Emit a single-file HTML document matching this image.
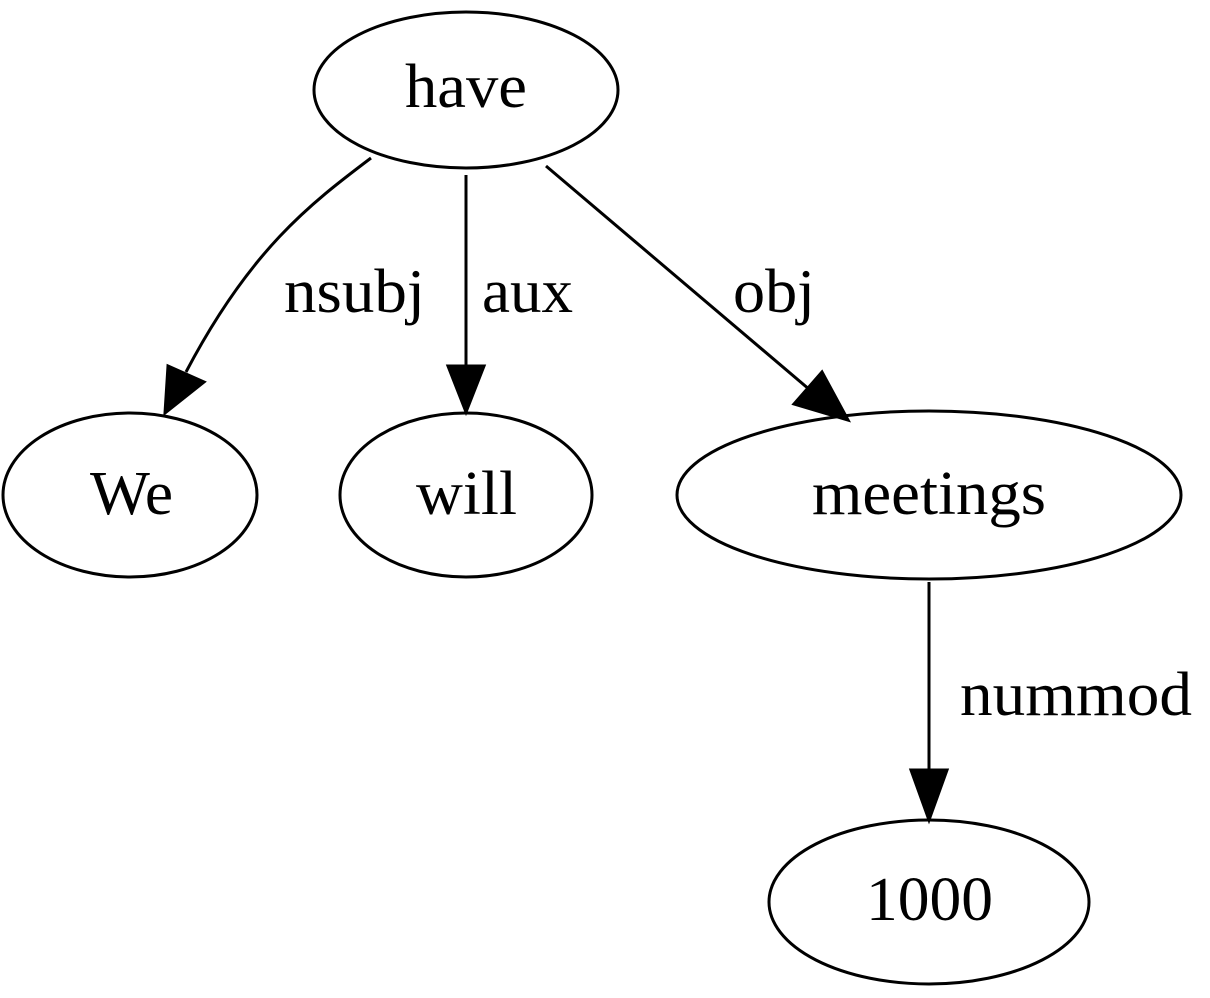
<!DOCTYPE html>
<html><head><meta charset="utf-8"><style>
html,body{margin:0;padding:0;background:#fff;}
svg{display:block;}
text{font-family:"Liberation Serif",serif;font-size:62px;fill:#000;}
</style></head><body>
<svg width="1210" height="998" viewBox="0 0 1210 998" xmlns="http://www.w3.org/2000/svg">
<g fill="none" stroke="#000" stroke-width="3">
<ellipse cx="466" cy="90" rx="152" ry="78"/>
<ellipse cx="130" cy="495" rx="127" ry="82"/>
<ellipse cx="466" cy="495" rx="126" ry="82"/>
<ellipse cx="929" cy="495" rx="252" ry="84"/>
<ellipse cx="929" cy="902" rx="160" ry="82"/>
<path d="M371,158 C310,204 250,250 186,372"/>
<line x1="466" y1="175" x2="466" y2="366"/>
<line x1="546" y1="166" x2="810" y2="390"/>
<line x1="929" y1="582" x2="929" y2="770"/>
</g>
<g fill="#000" stroke="#000" stroke-width="3">
<polygon points="165,413 168,366 204,382"/>
<polygon points="466,412 448,366 484,366"/>
<polygon points="848,420 794,404 822,372"/>
<polygon points="929,820 911,770 947,770"/>
</g>
<text x="405" y="107" textLength="122" lengthAdjust="spacingAndGlyphs">have</text>
<text x="90" y="514" textLength="83" lengthAdjust="spacingAndGlyphs">We</text>
<text x="416" y="514" textLength="101" lengthAdjust="spacingAndGlyphs">will</text>
<text x="812" y="514" textLength="234" lengthAdjust="spacingAndGlyphs">meetings</text>
<text x="866" y="920" textLength="127" lengthAdjust="spacingAndGlyphs">1000</text>
<text x="284" y="312" textLength="141" lengthAdjust="spacingAndGlyphs">nsubj</text>
<text x="482" y="312" textLength="91" lengthAdjust="spacingAndGlyphs">aux</text>
<text x="733" y="312" textLength="82" lengthAdjust="spacingAndGlyphs">obj</text>
<text x="960" y="715" textLength="232" lengthAdjust="spacingAndGlyphs">nummod</text>
</svg>
</body></html>
